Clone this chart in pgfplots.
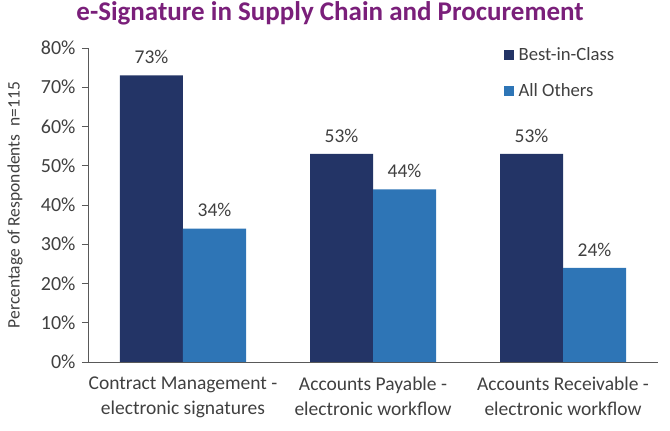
\documentclass[border=0pt]{standalone}
\usepackage{pgfplots}
\pgfplotsset{compat=1.18}
\usepackage{fontspec}
\setmainfont{Carlito}
\definecolor{navy}{HTML}{233466}
\definecolor{lblue}{HTML}{2E75B6}
\definecolor{ttl}{HTML}{7A1F7A}
\begin{document}
\begin{tikzpicture}
\useasboundingbox (0,0) rectangle (670pt,431pt);
\node[font=\fontsize{27}{29}\selectfont\bfseries, text=ttl] at (330pt,418pt) {e-Signature in Supply Chain and Procurement};
\begin{axis}[
  at={(88pt,69pt)}, anchor=south west,
  scale only axis, width=570pt, height=314pt,
  xmin=-0.5, xmax=2.5, ymin=0, ymax=80,
  axis lines=left,
  axis line style={draw=black!65, line width=0.8pt, -},
  ybar, bar width=63pt,
  ytick={0,10,...,80},
  yticklabel={\pgfmathprintnumber{\tick}\%},
  /pgf/number format/assume math mode=true,
  yticklabel style={font=\fontsize{20}{22}\selectfont, text=black!75, xshift=-3pt},
  tick style={draw=black!65, line width=0.8pt},
  tick align=outside, major tick length=6pt,
  xtick={0,1,2}, xtick style={draw=none},
  xticklabels={{Contract Management -\\electronic signatures},{Accounts Payable -\\electronic workflow},{Accounts Receivable -\\electronic workflow}},
  xticklabel style={font=\fontsize{19.5}{25}\selectfont, align=center, text=black!75, yshift=-5pt},
  ylabel={Percentage of Respondents\ \ n=115},
  ylabel style={font=\fontsize{17.5}{19}\selectfont, text=black!75, at={(axis description cs:-0.128,0.5)}, anchor=center},
  nodes near coords={\pgfmathprintnumber{\pgfplotspointmeta}\%},
  nodes near coords style={font=\fontsize{19.5}{21}\selectfont, text=black!75, yshift=8pt},
  point meta=y,
  legend style={draw=none, at={(0.7235,1.0134)}, anchor=north west, font=\fontsize{18.7}{20}\selectfont, row sep=17pt, text=black!75,
    /tikz/every odd column/.append style={column sep=3pt}},
  legend cell align=left,
  legend image code/.code={\fill[#1] (0pt,-5pt) rectangle (10pt,5pt);},
  clip=false,
]
\addplot[fill=navy, draw=none, bar shift=-31.5pt] coordinates {(0,73) (1,53) (2,53)};
\addplot[fill=lblue, draw=none, bar shift=31.5pt] coordinates {(0,34) (1,44) (2,24)};
\legend{Best-in-Class, All Others}
\end{axis}
\end{tikzpicture}
\end{document}
